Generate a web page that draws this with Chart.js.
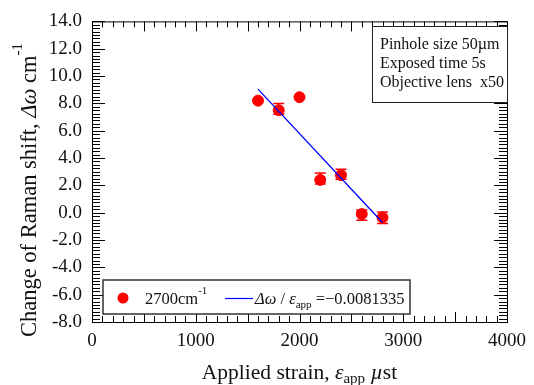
<!DOCTYPE html>
<html>
<head>
<meta charset="utf-8">
<script src="https://cdn.jsdelivr.net/npm/chart.js@4.4.0/dist/chart.umd.min.js"></script>
<style>
  html, body { margin: 0; padding: 0; background: #fff; }
  #wrap { width: 534px; height: 385px; }
</style>
</head>
<body>
<div id="wrap"><canvas id="ramanChart"></canvas></div>
<script>
// --- data ---
const strain = [1600, 1800, 2000, 2200, 2400, 2600, 2800];
const shift = [8.2, 7.5, 8.45, 2.4, 2.75, -0.1, -0.35];
const errUp = [0, 0.5, 0, 0.5, 0.43, 0.3, 0.4];
const errDown = [0, 0.3, 0, 0.3, 0.3, 0.45, 0.45];
const fitX = [1600, 2800];
const fitY = [9.04, -0.72];
const infoLines = ['Pinhole size 50\u00b5m', 'Exposed time 5s', 'Objective lens  x50'];

const serif = '"Liberation Serif", "Times New Roman", serif';
const red = '#ff0000';
const blue = '#0000ff';

// draw a list of [text, font, dy] runs starting at x,y
function drawRuns(ctx, runs, x, y) {
    runs.forEach(r => {
        ctx.font = r[1];
        ctx.fillText(r[0], x, y + (r[2] || 0));
        x += ctx.measureText(r[0]).width;
    });
    return x;
}
function runsWidth(ctx, runs) {
    let w = 0;
    runs.forEach(r => { ctx.font = r[1]; w += ctx.measureText(r[0]).width; });
    return w;
}

// error bars with caps, under the dots
const errorBars = {
    id: 'errorBars',
    beforeDatasetsDraw(chart) {
        const { ctx, scales: { x, y } } = chart;
        ctx.save();
        ctx.strokeStyle = red;
        ctx.lineWidth = 1.5;
        strain.forEach((s, i) => {
            const px = x.getPixelForValue(s);
            const top = y.getPixelForValue(shift[i] + errUp[i]);
            const bot = y.getPixelForValue(shift[i] - errDown[i]);
            ctx.beginPath();
            ctx.moveTo(px, top); ctx.lineTo(px, bot);
            if (errUp[i] > 0) { ctx.moveTo(px - 5.5, top); ctx.lineTo(px + 5.5, top); }
            if (errDown[i] > 0) { ctx.moveTo(px - 5.5, bot); ctx.lineTo(px + 5.5, bot); }
            ctx.stroke();
        });
        ctx.restore();
    }
};

// frame with inward ticks on all four sides, titles, legend and info box
const decorations = {
    id: 'decorations',
    afterDraw(chart) {
        const { ctx, chartArea: a, scales: { x, y } } = chart;
        ctx.save();
        ctx.strokeStyle = '#000';
        ctx.lineWidth = 1;
        ctx.strokeRect(a.left + 0.5, a.top + 0.5, a.right - a.left, a.bottom - a.top);

        ctx.beginPath();
        for (let v = 0; v <= 4000; v += 100) {
            const px = Math.round(x.getPixelForValue(v)) + 0.5;
            const len = v % 500 === 0 ? 10 : 6;
            ctx.moveTo(px, a.bottom); ctx.lineTo(px, a.bottom - len);
            ctx.moveTo(px, a.top); ctx.lineTo(px, a.top + len);
        }
        for (let k = 0; k <= 88; k++) {
            const v = -8 + k * 0.25;
            const py = Math.round(y.getPixelForValue(v)) + 0.5;
            const len = k % 8 === 0 ? 13 : 8;
            ctx.moveTo(a.left, py); ctx.lineTo(a.left + len, py);
            ctx.moveTo(a.right, py); ctx.lineTo(a.right - len, py);
        }
        ctx.stroke();

        ctx.fillStyle = '#111';
        ctx.textBaseline = 'alphabetic';

        // x title
        const f21 = '21.5px ' + serif, i21 = 'italic 21.5px ' + serif, f15 = '15px ' + serif;
        const xRuns = [['Applied strain, ', f21], ['\u03b5', i21], ['app', f15, 4], [' ', f21], ['\u00b5', i21], ['st', f21]];
        const cx = (a.left + a.right) / 2;
        drawRuns(ctx, xRuns, cx - runsWidth(ctx, xRuns) / 2, 379);

        // y title (rotated)
        const f22 = '22.5px ' + serif, i22 = 'italic 22.5px ' + serif;
        const yRuns = [['Change of Raman shift, ', f22], ['\u0394\u03c9', i22], [' cm', f22], ['-1', f15, -14]];
        ctx.save();
        ctx.translate(36, 190);
        ctx.rotate(-Math.PI / 2);
        drawRuns(ctx, yRuns, -runsWidth(ctx, yRuns) / 2, 0);
        ctx.restore();

        // legend box
        ctx.fillStyle = '#fff';
        ctx.fillRect(103, 280, 307, 34);
        ctx.lineWidth = 1.5;
        ctx.strokeStyle = '#333';
        ctx.strokeRect(103, 280, 307, 34);
        ctx.fillStyle = red;
        ctx.beginPath(); ctx.arc(123, 298, 5.5, 0, Math.PI * 2); ctx.fill();
        ctx.fillStyle = '#111';
        const f16 = '16.5px ' + serif, i16 = 'italic 16.5px ' + serif, f11 = '11px ' + serif;
        drawRuns(ctx, [['2700cm', f16], ['-1', f11, -10]], 145, 304);
        ctx.strokeStyle = blue;
        ctx.lineWidth = 1.2;
        ctx.beginPath(); ctx.moveTo(225, 298.5); ctx.lineTo(253, 298.5); ctx.stroke();
        drawRuns(ctx, [['\u0394\u03c9', i16], [' / ', f16], ['\u03b5', i16], ['app', f11, 4], [' =\u22120.0081335', f16]], 255, 304);

        // info box
        ctx.fillStyle = '#fff';
        ctx.fillRect(372.5, 26.5, 135, 76);
        ctx.strokeStyle = '#222';
        ctx.lineWidth = 1;
        ctx.strokeRect(372.5, 26.5, 135, 76);
        ctx.fillStyle = '#111';
        ctx.font = '16px ' + serif;
        infoLines.forEach((t, i) => ctx.fillText(t, 380, 49 + i * 19));
        ctx.restore();
    }
};

new Chart(document.getElementById('ramanChart'), {
    type: 'scatter',
    data: {
        datasets: [
            {
                label: 'Fit',
                data: fitX.map((v, i) => ({ x: v, y: fitY[i] })),
                showLine: true,
                borderColor: blue,
                borderWidth: 1.3,
                pointRadius: 0,
                order: 0
            },
            {
                label: '2700cm-1',
                data: strain.map((v, i) => ({ x: v, y: shift[i] })),
                backgroundColor: red,
                borderColor: red,
                pointRadius: 5.5,
                order: 1
            }
        ]
    },
    options: {
        responsive: true,
        maintainAspectRatio: false,
        animation: false,
        layout: { padding: { left: 0, top: 19, right: 23, bottom: 0 } },
        plugins: { legend: { display: false }, tooltip: { enabled: false } },
        scales: {
            x: {
                type: 'linear', min: 0, max: 4000,
                afterFit: s => { s.height = 63; },
                grid: { display: false, drawTicks: false },
                border: { display: false },
                ticks: { stepSize: 1000, padding: 8, color: '#111', font: { family: serif, size: 19 },
                    callback: v => String(v) }
            },
            y: {
                type: 'linear', min: -8, max: 14,
                afterFit: s => { s.width = 92; },
                grid: { display: false, drawTicks: false },
                border: { display: false },
                ticks: { stepSize: 2, padding: 10, color: '#111', font: { family: serif, size: 19 },
                    callback: v => v.toFixed(1) }
            }
        }
    },
    plugins: [errorBars, decorations]
});
</script>
</body>
</html>
